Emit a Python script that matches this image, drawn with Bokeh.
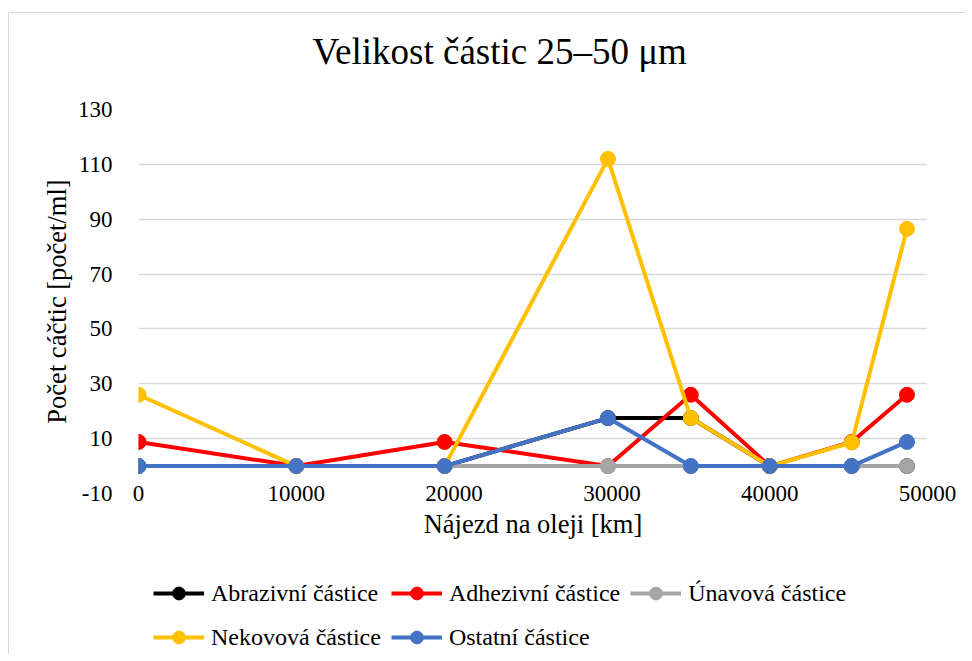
from bokeh.plotting import figure
from bokeh.models import Legend, LegendItem, FixedTicker, Range1d, Title
from bokeh.layouts import column
from bokeh.embed import file_html
from bokeh.resources import INLINE

# ---- data ----
najezd = [0, 10000, 19400, 29750, 35000, 40000, 45200, 48700]
abrazivni = [0, 0, 0, 17.5, 17.5, 0, 0, 0]
adhezivni = [8.8, 0, 8.8, 0, 26, 0, 8.8, 26]
unavova = [0, 0, 0, 0, 0, 0, 0, 0]
nekovova = [26, 0, 0, 112, 17.5, 0, 8.6, 86.5]
ostatni = [0, 0, 0, 17.5, 0, 0, 0, 8.8]

series_names = ["Abrazivní částice", "Adhezivní částice", "Únavová částice",
                "Nekovová částice", "Ostatní částice"]
series_values = [abrazivni, adhezivni, unavova, nekovova, ostatni]
series_colors = ["#000000", "#FF0000", "#A5A5A5", "#FFC000", "#4472C4"]

x_ticks = [0, 10000, 20000, 30000, 40000, 50000]
x_tick_labels = ["0", "10000", "20000", "30000", "40000", "50000"]
y_ticks = [-10, 10, 30, 50, 70, 90, 110, 130]
y_tick_labels = ["-10", "10", "30", "50", "70", "90", "110", "130"]

title_text = "Velikost částic 25–50 μm"
x_title = "Nájezd na oleji [km]"
y_title = "Počet cáčtic [počet/ml]"

FONT = "Liberation Serif"
W = 956
H_MAIN = 545
H_LEG = 96

p = figure(width=W, height=H_MAIN, output_backend="svg", toolbar_location=None,
           x_range=Range1d(0, 50000), y_range=Range1d(-10, 130),
           min_border_left=129, min_border_right=38, min_border_top=96,
           min_border_bottom=65, title=title_text,
           background_fill_color="white", border_fill_color="white",
           outline_line_color=None)

p.title.text_font = FONT
p.title.text_font_size = "37px"
p.title.text_font_style = "normal"
p.title.text_color = "#000000"
p.title.align = "left"
p.title.offset = 174
p.title.standoff = 0

# empty spacer between the frame and the title
p.add_layout(Title(text=" ", text_font_size="2px", standoff=34), "above")

# grid
p.xgrid.visible = False
p.ygrid.ticker = FixedTicker(ticks=y_ticks)
p.ygrid.grid_line_color = "#d9d9d9"
p.ygrid.grid_line_width = 1.3

# axes
for ax in (p.xaxis[0], p.yaxis[0]):
    ax.axis_line_color = None
    ax.major_tick_line_color = None
    ax.minor_tick_line_color = None
    ax.major_label_text_font = FONT
    ax.major_label_text_font_size = "23px"
    ax.major_label_text_color = "#000000"
    ax.axis_label_text_font = FONT
    ax.axis_label_text_font_size = "26.5px"
    ax.axis_label_text_font_style = "normal"
    ax.axis_label_text_color = "#000000"

p.xaxis.ticker = FixedTicker(ticks=x_ticks)
p.xaxis.major_label_overrides = dict(zip(x_ticks, x_tick_labels))
p.xaxis.major_label_standoff = -14
p.xaxis.axis_label = x_title
p.xaxis.axis_label_standoff = 5

p.yaxis.ticker = FixedTicker(ticks=y_ticks)
p.yaxis.major_label_overrides = dict(zip(y_ticks, y_tick_labels))
p.yaxis.major_label_standoff = 20
p.yaxis.axis_label = y_title
p.yaxis.axis_label_standoff = 3

for vals, col in zip(series_values, series_colors):
    p.line(najezd, vals, line_color=col, line_width=4)
    p.scatter(najezd, vals, size=15, fill_color=col, line_color=col)

# ---- legend strip below the plot (same series, view kept off the data) ----
leg = figure(width=W, height=H_LEG, output_backend="svg", toolbar_location=None,
             x_range=Range1d(-3, -2), y_range=Range1d(-3, -2),
             x_axis_type=None, y_axis_type=None,
             min_border=0, outline_line_color=None,
             background_fill_color="white", border_fill_color="white")
items = []
for name, vals, col in zip(series_names, series_values, series_colors):
    r_line = leg.line(najezd, vals, line_color=col, line_width=4)
    r_pts = leg.scatter(najezd, vals, size=15, fill_color=col, line_color=col)
    items.append(LegendItem(label=name, renderers=[r_line, r_pts]))

legend = Legend(items=items, location=(15, 0), orientation="horizontal",
                ncols=3, padding=0, spacing=10, margin=0,
                glyph_width=51, glyph_height=32, label_standoff=7,
                label_text_font=FONT, label_text_font_size="24px",
                label_text_color="#000000", label_height=34,
                border_line_color=None, background_fill_alpha=0)
leg.add_layout(legend, "center")

layout = column(p, leg, spacing=0, margin=(12, 0, 0, 8),
                styles={"border-left": "1px solid #d9d9d9",
                        "border-top": "1px solid #d9d9d9"})

open("out.html", "w").write(file_html(layout, INLINE))
